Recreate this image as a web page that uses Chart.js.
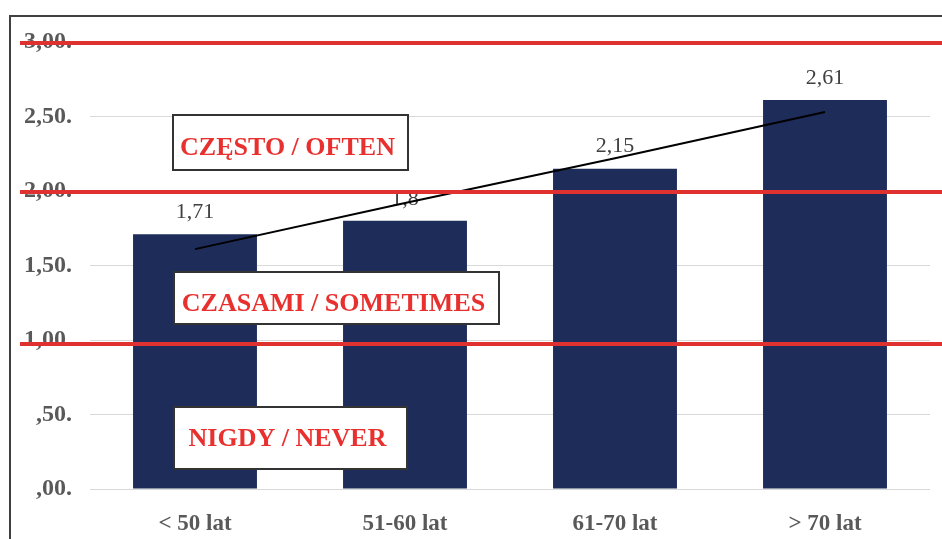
<!DOCTYPE html>
<html>
<head>
<meta charset="utf-8">
<script src="https://cdn.jsdelivr.net/npm/chart.js@4/dist/chart.umd.min.js"></script>
<style>
  html, body { margin: 0; padding: 0; background: #fff; }
  #wrap { position: relative; width: 942px; height: 539px; overflow: hidden; }
  #frame { position: absolute; left: 9px; top: 15px; right: -5px; bottom: -5px;
           border-left: 2px solid #404040; border-top: 2px solid #404040; pointer-events: none; }
  canvas { position: absolute; left: 0; top: 0; }
</style>
</head>
<body>
<div id="wrap">
  <canvas id="chart" width="942" height="539"></canvas>
  <div id="frame"></div>
</div>
<script>
const categories = ['< 50 lat', '51-60 lat', '61-70 lat', '> 70 lat'];
const means = [1.71, 1.8, 2.15, 2.61];
const trend = [1.61, 1.92, 2.22, 2.53];
const yTickLabels = [',00.', ',50.', '1,00.', '1,50.', '2,00.', '2,50.', '3,00.'];
const bandLines = [2.99, 1.99, 0.97];
const bandNames = ['CZĘSTO / OFTEN', 'CZASAMI / SOMETIMES', 'NIGDY / NEVER'];

const SERIF = '"Liberation Serif", "Times New Roman", serif';

// value labels above bars (drawn before the trend line)
const barLabels = {
  id: 'barLabels',
  afterDatasetDraw(chart, args) {
    if (args.index !== 0) return;
    const ctx = chart.ctx;
    ctx.save();
    ctx.font = `22px ${SERIF}`;
    ctx.fillStyle = '#404040';
    ctx.textAlign = 'center';
    ctx.textBaseline = 'middle';
    args.meta.data.forEach((bar, i) => {
      ctx.fillText(String(means[i]).replace('.', ','), bar.x, bar.y - 22);
    });
    ctx.restore();
  }
};

// red threshold lines + text boxes
const bands = {
  id: 'bands',
  afterDraw(chart) {
    const ctx = chart.ctx;
    const y = chart.scales.y;
    ctx.save();
    ctx.strokeStyle = '#e03131';
    ctx.lineWidth = 4;
    bandLines.forEach(v => {
      const py = Math.round(y.getPixelForValue(v));
      ctx.beginPath();
      ctx.moveTo(20, py);
      ctx.lineTo(chart.width, py);
      ctx.stroke();
    });

    const boxes = [
      { x: 173, y: 115, w: 235, h: 55, ty: 147 },
      { x: 174, y: 272, w: 325, h: 52, ty: 303 },
      { x: 174, y: 407, w: 233, h: 62, ty: 438 },
    ];
    ctx.font = `bold 26px ${SERIF}`;
    ctx.textAlign = 'center';
    ctx.textBaseline = 'middle';
    boxes.forEach((b, i) => {
      ctx.fillStyle = '#fff';
      ctx.fillRect(b.x, b.y, b.w, b.h);
      ctx.strokeStyle = '#333';
      ctx.lineWidth = 2;
      ctx.strokeRect(b.x, b.y, b.w, b.h);
      ctx.fillStyle = '#e8302f';
      ctx.fillText(bandNames[i], b.x + b.w / 2 - 3, b.ty + 1);
    });
    ctx.restore();
  }
};

new Chart(document.getElementById('chart'), {
  data: {
    labels: categories,
    datasets: [
      {
        type: 'bar',
        data: means,
        backgroundColor: '#1d2c59',
        barPercentage: 0.59,
        categoryPercentage: 1,
        order: 2,
      },
      {
        type: 'line',
        data: trend,
        borderColor: '#000',
        borderWidth: 2,
        pointRadius: 0,
        fill: false,
        order: 1,
      },
    ],
  },
  options: {
    responsive: false,
    animation: false,
    devicePixelRatio: 1,
    layout: { padding: { top: 42, right: 12, left: 0, bottom: 0 } },
    plugins: { legend: { display: false }, tooltip: { enabled: false } },
    scales: {
      x: {
        grid: { display: false },
        border: { display: false },
        ticks: {
          color: '#595959',
          padding: 13,
          font: { family: SERIF, size: 23, weight: 'bold' },
        },
        afterFit: s => { s.height = 50; },
      },
      y: {
        min: 0,
        max: 3,
        grid: { color: '#d9d9d9', drawTicks: false },
        border: { display: false },
        ticks: {
          stepSize: 0.5,
          padding: 18,
          color: '#595959',
          font: { family: SERIF, size: 24, weight: 'bold' },
          callback: (v, i) => yTickLabels[i],
        },
        afterFit: s => { s.width = 90; },
      },
    },
  },
  plugins: [barLabels, bands],
});
</script>
</body>
</html>
